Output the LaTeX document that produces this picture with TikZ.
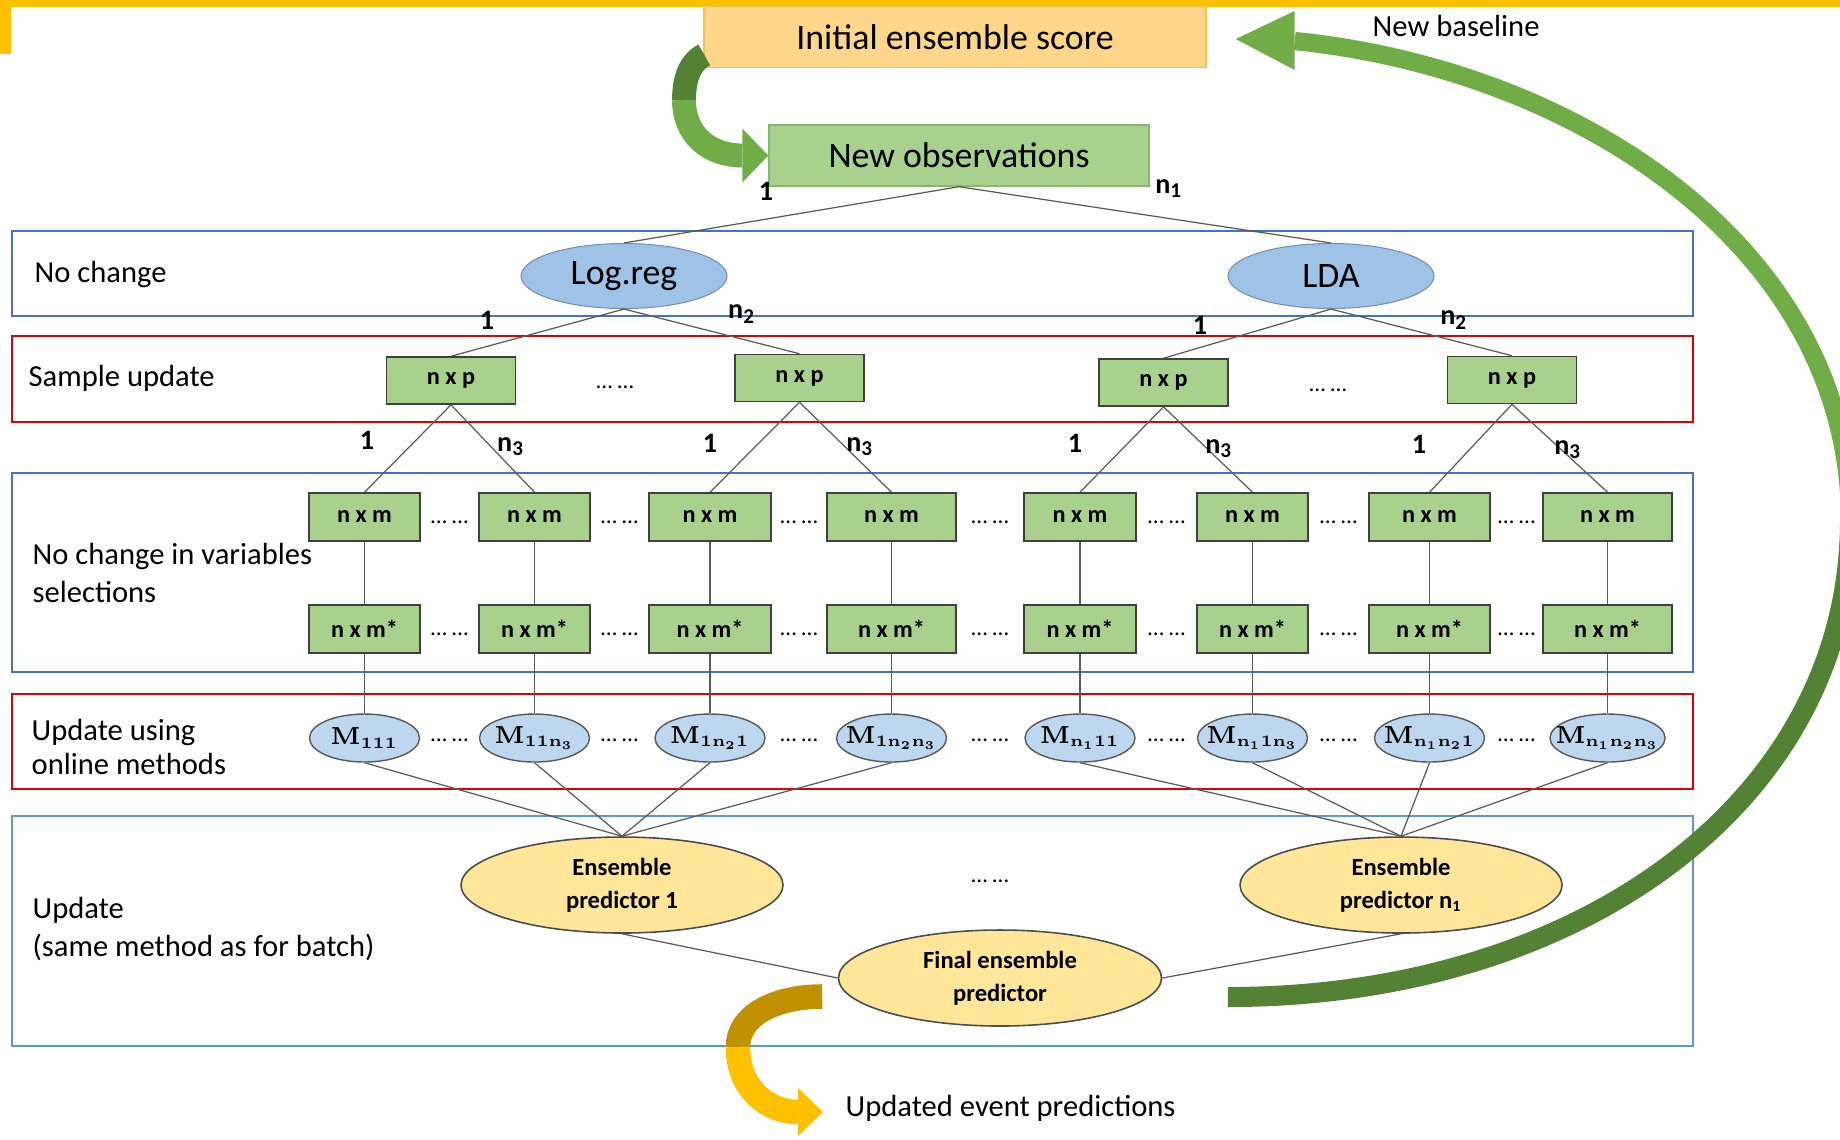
\RequirePackage{fix-cm}
\documentclass[tikz,border=0pt]{standalone}
\usepackage[no-math]{fontspec}
\setmainfont{Carlito}
\DeclareMathSizes{7}{7}{4.5}{3.4}
\usetikzlibrary{arrows.meta,calc,positioning,shapes.geometric}

\definecolor{barYellow}{HTML}{FFC000}
\definecolor{scoreFill}{HTML}{FDD68A}
\definecolor{scoreLine}{HTML}{F2C14E}
\definecolor{boxGreen}{HTML}{A9D18E}
\definecolor{obsLine}{HTML}{8CB66F}
\definecolor{ellBlue}{HTML}{9FC2E7}
\definecolor{mBlue}{HTML}{BDD7EE}
\definecolor{ensYellow}{HTML}{FFE699}
\definecolor{bandBlue}{HTML}{4472C4}
\definecolor{bandLight}{HTML}{5B9BD5}
\definecolor{bandRed}{HTML}{E00000}
\definecolor{arcDark}{HTML}{548235}
\definecolor{arcLight}{HTML}{70AD47}
\definecolor{goldDark}{HTML}{C09100}
\definecolor{linkGray}{HTML}{5A5A5A}

\begin{document}
\begin{tikzpicture}[x=1cm, y=-1cm, >=Stealth, font=\fontsize{8.7}{10.8}\selectfont,
		every node/.style={inner sep=0pt},
		band/.style={line width=0.6pt},
		bigtxt/.style={font=\fontsize{10.2}{12}\selectfont},
		topell/.style={ellipse, draw=ellBlue!75!black, fill=ellBlue, line width=0.3pt, minimum width=2.06cm, minimum height=0.65cm, bigtxt},
		grnbox/.style={draw=black!75, fill=boxGreen, line width=0.45pt, minimum height=0.48cm, font=\fontsize{6.9}{8}\selectfont\bfseries},
		modell/.style={ellipse, draw=black!65, fill=mBlue, line width=0.4pt, inner xsep=-3.2pt, minimum width=1.10cm, minimum height=0.48cm, font=\fontsize{7}{9}\selectfont},
		ensell/.style={ellipse, draw=black!70, fill=ensYellow, line width=0.45pt, minimum width=3.22cm, minimum height=0.96cm, align=center, font=\fontsize{7}{9.4}\selectfont\bfseries},
		link/.style={draw=linkGray, line width=0.35pt},
		lbl/.style={anchor=west, align=left},
		num/.style={font=\fontsize{8}{9}\selectfont\bfseries},
		dots/.style={font=\fontsize{6.6}{8}\selectfont}]
	\useasboundingbox (0,0) rectangle (18.4,11.39);
	% Yellow frame corner
	\fill[barYellow] (0,0) rectangle (18.4,0.065);
	\fill[barYellow] (0,0) rectangle (0.11,0.54);
	% Bands
	\draw[band, bandBlue] (0.12,2.31) rectangle (16.93,3.16);
	\draw[band, bandRed, line width=0.7pt] (0.12,3.36) rectangle (16.93,4.22);
	\draw[band, bandBlue] (0.12,4.73) rectangle (16.93,6.72);
	\draw[band, bandRed, line width=0.7pt] (0.12,6.94) rectangle (16.93,7.89);
	\draw[band, bandLight] (0.12,8.16) rectangle (16.93,10.46);
	% Band labels
	\node[lbl] (t1) at (0.34,2.74) {No change};
	\node[lbl] (t2) at (0.28,3.78) {Sample update};
	\node[lbl] (t3) at (0.32,5.73) {No change in variables\\selections};
	\node[lbl, font=\fontsize{8.7}{9.8}\selectfont] (t4) at (0.31,7.47) {Update using\\online methods};
	\node[lbl] (t5) at (0.32,9.29) {Update\\(same method as for batch)};
	% Top boxes
	\node[draw=scoreLine, fill=scoreFill, minimum width=5.02cm, minimum height=0.605cm, bigtxt] (init) at (9.55,0.37) {Initial ensemble score};
	\node[draw=obsLine, fill=boxGreen, minimum width=3.80cm, minimum height=0.61cm, bigtxt] (obs) at (9.59,1.555) {New observations};
	\node[lbl] (base) at (13.72,0.26) {New baseline};
	\node[lbl] (upd) at (8.45,11.08) {Updated event predictions};
	% Models and samples
	\node[topell] (logreg) at (6.24,2.76) {Log.reg};
	\node[topell] (lda) at (13.31,2.76) {LDA};
	\foreach \i/\x/\y in {1/4.51/3.805, 2/7.995/3.78, 3/11.635/3.825, 4/15.12/3.80}
		\node[grnbox, minimum width=1.29cm, minimum height=0.47cm] (p\i) at (\x,\y) {n x p};
	\node[dots] (dp1) at (6.15,3.87) {… …};
	\node[dots] (dp2) at (13.28,3.90) {… …};
	% Variable selections and online models
	\foreach \i/\x/\w/\s in {1/3.645/1.11/111, 2/5.345/1.11/11n_3, 3/7.10/1.22/1n_21, 4/8.915/1.29/1n_2n_3,
			5/10.80/1.12/n_111, 6/12.525/1.11/n_11n_3, 7/14.295/1.21/n_1n_21, 8/16.075/1.29/n_1n_2n_3} {
		\node[grnbox, minimum width=\w cm] (m\i) at (\x,5.17) {n x m};
		\node[grnbox, minimum width=\w cm] (s\i) at (\x,6.29) {n x m*};
		\node[modell] (mod\i) at (\x,7.38) {$\mathbf{M_{\s}}$};
	}
	\foreach \x [count=\k] in {4.495,6.195,7.99,9.90,11.665,13.385,15.165} {
		\node[dots] (dm\k) at (\x,5.22) {… …};
		\node[dots] (ds\k) at (\x,6.34) {… …};
		\node[dots] (dd\k) at (\x,7.40) {… …};
	}
	% Ensembles
	\node[ensell] (ens1) at (6.22,8.85) {Ensemble\\predictor 1};
	\node[ensell] (ensn) at (14.01,8.85) {Ensemble\\predictor n\textsubscript{1}};
	\node[dots] (de) at (9.90,8.81) {… …};
	\node[ensell, minimum width=3.23cm] (final) at (10.00,9.78) {Final ensemble\\predictor};
	% Connectors
	\draw[link] (obs.south) -- (logreg.north);
	\draw[link] (obs.south) -- (lda.north);
	\draw[link] (logreg.south) -- (p1.north);
	\draw[link] (logreg.south) -- (p2.north);
	\draw[link] (lda.south) -- (p3.north);
	\draw[link] (lda.south) -- (p4.north);
	\foreach \p/\a/\b in {1/1/2, 2/3/4, 3/5/6, 4/7/8} {
		\draw[link] (p\p.south) -- (m\a.north);
		\draw[link] (p\p.south) -- (m\b.north);
	}
	\foreach \i in {1,...,8} {
		\draw[link] (m\i) -- (s\i);
		\draw[link] (s\i) -- (mod\i);
	}
	\foreach \i in {1,...,4} \draw[link] (mod\i.south) -- (ens1.north);
	\foreach \i in {5,...,8} \draw[link] (mod\i.south) -- (ensn.north);
	\draw[link] (ens1.south) -- (final.west);
	\draw[link] (ensn.south) -- (final.east);
	% Branch counts
	\foreach \x/\y/\t [count=\k] in {7.66/1.91/1, 11.69/1.89/n\textsubscript{1}, 4.87/3.20/1, 7.42/3.14/n\textsubscript{2},
			12.00/3.25/1, 14.54/3.20/n\textsubscript{2}, 3.67/4.40/1, 5.11/4.47/n\textsubscript{3}, 7.10/4.43/1,
			8.60/4.47/n\textsubscript{3}, 10.75/4.43/1, 12.19/4.49/n\textsubscript{3}, 14.19/4.44/1, 15.68/4.50/n\textsubscript{3}}
		\node[num] (w\k) at (\x,\y) {\t};
	% Curved arrow: score -> new observations
	\coordinate (gTail) at ($(init.south west)+(0.01,-0.13)$);
	\coordinate (gBase) at ($(obs.west)+(-0.26,0)$);
	\draw[arcDark, line width=6.8pt] (gTail) .. controls +(-0.15,0.075) and +(0,-0.20) .. (6.84,1.00);
	\draw[arcLight, line width=6.8pt] (6.84,1.00) .. controls +(0,0.35) and +(-0.33,0) .. (gBase);
	\fill[arcLight] ($(gBase)+(0,-0.27)$) -- ($(gBase)+(0,0.27)$) -- (obs.west) -- cycle;
	% Curved arrow: final -> updated predictions
	\coordinate (yTail) at ($(final.west)+(-0.155,0.185)$);
	\coordinate (yTip) at ($(upd.west)+(-0.22,0.04)$);
	\coordinate (yBase) at ($(yTip)+(-0.25,0)$);
	\draw[goldDark, line width=7pt] (yTail) .. controls +(-0.45,0) and +(0,-0.33) .. (7.38,10.47);
	\draw[barYellow, line width=7pt] (7.38,10.47) .. controls +(0,0.42) and +(-0.30,0) .. (yBase);
	\fill[barYellow] ($(yBase)+(0,-0.24)$) -- ($(yBase)+(0,0.24)$) -- (yTip) -- cycle;
	% New baseline arc: final -> score
	\coordinate (aTail) at ($(final.east)+(0.655,0.19)$);
	\coordinate (aTip) at ($(init.east)+(0.29,0.02)$);
	\coordinate (aBase) at ($(aTip)+(0.59,0.02)$);
	\draw[arcDark, line width=5.7pt] (aTail) .. controls +(3.53,0) and +(0,2.80) .. (18.50,5.20);
	\draw[arcLight, line width=5.2pt] (18.50,5.20) .. controls +(0,-2.70) and +(2.86,0.29) .. (aBase);
	\fill[arcLight] ($(aBase)+(0,-0.30)$) -- ($(aBase)+(0,0.29)$) -- (aTip) -- cycle;
\end{tikzpicture}
\end{document}
